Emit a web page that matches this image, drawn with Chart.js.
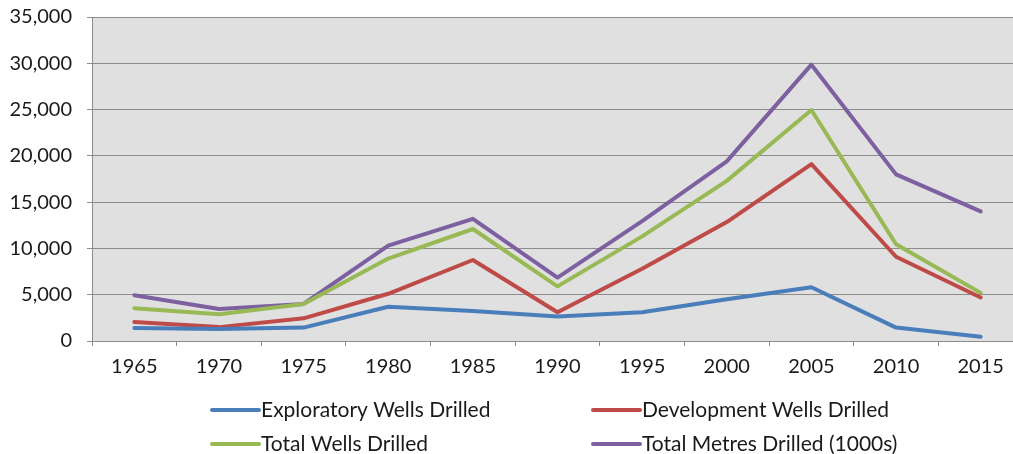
<!DOCTYPE html>
<html>
<head>
<meta charset="utf-8">
<script src="https://cdn.jsdelivr.net/npm/chart.js@4/dist/chart.umd.min.js"></script>
<style>
  html, body { margin: 0; padding: 0; background: #fff; overflow: hidden; }
  #wrap { width: 1030px; height: 454px; }
</style>
</head>
<body>
<div id="wrap"><canvas id="chart"></canvas></div>
<script>
const years = ['1965', '1970', '1975', '1980', '1985', '1990', '1995', '2000', '2005', '2010', '2015'];
const exploratory = [1400, 1300, 1450, 3700, 3250, 2650, 3100, 4500, 5800, 1450, 450];
const development = [2050, 1500, 2450, 5100, 8750, 3100, 7800, 12850, 19100, 9100, 4700];
const totalWells = [3550, 2900, 4000, 8900, 12100, 5900, 11300, 17300, 24950, 10450, 5200];
const totalMetres = [4950, 3450, 4000, 10300, 13200, 6850, 12950, 19400, 29850, 18000, 14000];
const yTicks = [0, 5000, 10000, 15000, 20000, 25000, 30000, 35000];

const chartCanvas = document.getElementById('chart');
const FONT = 'Lato, "Open Sans", sans-serif';

// grey plot area like the old Excel charts
const plotBackground = {
  id: 'plotBackground',
  beforeDraw(chart) {
    const { ctx, chartArea } = chart;
    ctx.save();
    ctx.fillStyle = '#e0e0e0';
    ctx.fillRect(chartArea.left, chartArea.top, chartArea.right - chartArea.left, chartArea.bottom - chartArea.top);
    ctx.restore();
  }
};

// two-column legend under the axis
const twoColLegend = {
  id: 'twoColLegend',
  afterDraw(chart) {
    const { ctx } = chart;
    const cols = [212, 593];
    const rows = [410, 444];
    ctx.save();
    ctx.font = '21px ' + FONT;
    ctx.textBaseline = 'middle';
    chart.data.datasets.forEach((ds, i) => {
      const x = cols[i % 2];
      const y = rows[Math.floor(i / 2)];
      ctx.strokeStyle = ds.borderColor;
      ctx.lineWidth = 4;
      ctx.lineCap = 'round';
      ctx.beginPath();
      ctx.moveTo(x, y);
      ctx.lineTo(x + 47, y);
      ctx.stroke();
      ctx.fillStyle = '#1a1a1a';
      ctx.fillText(ds.label, x + 49, y);
    });
    ctx.restore();
  }
};

function line(label, values, color) {
  return {
    label: label,
    data: values,
    borderColor: color,
    backgroundColor: color,
    borderWidth: 4,
    pointRadius: 0,
    tension: 0,
    borderJoinStyle: 'round',
    borderCapStyle: 'round'
  };
}

new Chart(chartCanvas, {
  type: 'line',
  data: {
    labels: years,
    datasets: [
      line('Exploratory Wells Drilled', exploratory, '#4a7ebb'),
      line('Development Wells Drilled', development, '#be4b48'),
      line('Total Wells Drilled', totalWells, '#98b954'),
      line('Total Metres Drilled (1000s)', totalMetres, '#7d60a0')
    ]
  },
  options: {
    responsive: true,
    maintainAspectRatio: false,
    animation: false,
    layout: { autoPadding: false, padding: { top: 17, right: 7, bottom: 66, left: 0 } },
    plugins: {
      legend: { display: false },
      tooltip: { enabled: false }
    },
    scales: {
      x: {
        offset: true,
        afterFit: scale => { scale.paddingLeft = 0; scale.paddingRight = 0; },
        grid: {
          offset: true,
          drawOnChartArea: false,
          drawTicks: true,
          tickLength: 5,
          color: '#8c8c8c'
        },
        border: { display: false },
        ticks: {
          color: '#1a1a1a',
          font: { family: FONT, size: 20 },
          padding: 9,
          maxRotation: 0,
          autoSkip: false
        }
      },
      y: {
        min: 0,
        max: 35000,
        afterBuildTicks: scale => { scale.ticks = yTicks.map(v => ({ value: v })); },
        afterFit: scale => { scale.width = 92; scale.paddingTop = 0; scale.paddingBottom = 0; },
        grid: {
          color: '#8c8c8c',
          lineWidth: 1,
          drawTicks: true,
          tickLength: 5
        },
        border: { display: true, color: '#8c8c8c' },
        ticks: {
          color: '#1a1a1a',
          font: { family: FONT, size: 20 },
          padding: 15,
          callback: v => v.toLocaleString('en-US')
        }
      }
    }
  },
  plugins: [plotBackground, twoColLegend]
});
</script>
</body>
</html>
